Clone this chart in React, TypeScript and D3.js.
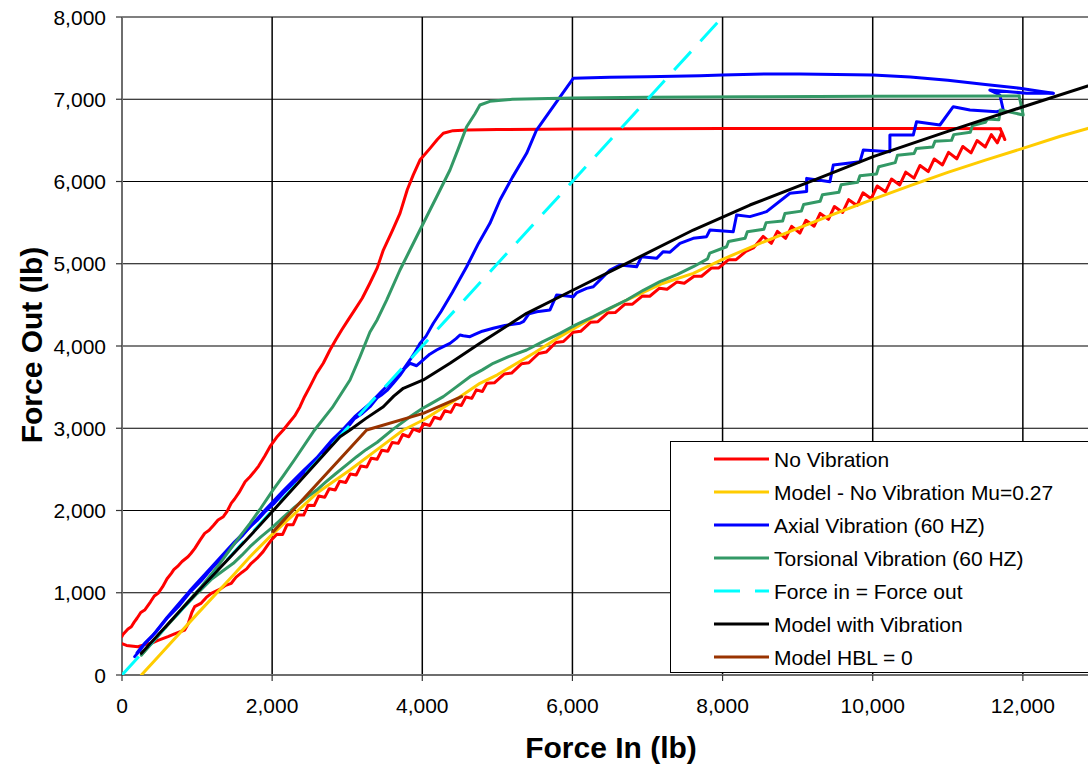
import React from "react";
import * as d3 from "d3";

type Pt = [number, number];

// Axis ticks
const xTicks = [0, 2000, 4000, 6000, 8000, 10000, 12000];
const xGrid = [2000, 4000, 6000, 8000, 10000, 12000, 14000];
const yTicks = [0, 1000, 2000, 3000, 4000, 5000, 6000, 7000, 8000];

// No Vibration: loading branch (stick-slip sawtooth) and unloading branch
const noVibLoad: Pt[] = [
  [0, 380], [60, 360], [150, 350], [213, 344], [300, 370], [390, 385], [480, 420], [613, 466],
  [700, 500], [835, 547], [880, 620], [930, 760], [968, 831], [1050, 870], [1120, 940], [1190, 993],
  [1300, 1040], [1380, 1090], [1456, 1115], [1520, 1190], [1600, 1250], [1660, 1290], [1722, 1358],
  [1800, 1420], [1880, 1500], [1940, 1580], [1989, 1641],
  [2060, 1710], [2140, 1709], [2200, 1828], [2280, 1827], [2340, 1946], [2420, 1945], [2480, 2064],
  [2560, 2060], [2620, 2176], [2700, 2160], [2760, 2265], [2840, 2250], [2900, 2355], [2980, 2340],
  [3040, 2444], [3120, 2432], [3180, 2540], [3260, 2528], [3320, 2636], [3400, 2624], [3460, 2733],
  [3540, 2720], [3600, 2828], [3680, 2816], [3740, 2924], [3820, 2897], [3880, 2990], [3960, 2962],
  [4020, 3054], [4100, 3034], [4160, 3134], [4240, 3113], [4300, 3213], [4380, 3193], [4440, 3293],
  [4520, 3276], [4580, 3380], [4660, 3363], [4720, 3467], [4800, 3447],
  [4860, 3547], [4960, 3553], [5090, 3659], [5190, 3671], [5320, 3783], [5420, 3796], [5550, 3909],
  [5650, 3926], [5780, 4043], [5880, 4055], [6010, 4167], [6110, 4178], [6240, 4288], [6340, 4296],
  [6470, 4403], [6570, 4406], [6700, 4509], [6800, 4508], [6930, 4607], [7030, 4605], [7160, 4703],
  [7260, 4690], [7390, 4777], [7490, 4763], [7620, 4848], [7720, 4848], [7850, 4948], [7950, 4949],
  [8080, 5050], [8180, 5050], [8310, 5150], [8410, 5192],
  [8540, 5333], [8650, 5248], [8730, 5394], [8840, 5309], [8920, 5454], [9030, 5373], [9110, 5528],
  [9220, 5457], [9300, 5612], [9410, 5540], [9490, 5696], [9600, 5624], [9680, 5779], [9790, 5708],
  [9870, 5863], [9980, 5791], [10060, 5946], [10170, 5875], [10250, 6030], [10360, 5958], [10440, 6114],
  [10550, 6041], [10630, 6195], [10740, 6121], [10820, 6274], [10930, 6201], [11010, 6354], [11120, 6276],
  [11200, 6426], [11310, 6348], [11390, 6498], [11500, 6420], [11580, 6570], [11660, 6470], [11720, 6600],
  [11760, 6510], [11700, 6640],
];
const noVibUnload: Pt[] = [
  [11700, 6640], [11000, 6645], [10000, 6645], [9000, 6645], [8000, 6643], [7000, 6640], [6000, 6638],
  [5000, 6632], [4600, 6625], [4410, 6618], [4280, 6586], [4200, 6510], [4100, 6400], [3969, 6261],
  [3880, 6080], [3800, 5900], [3703, 5613], [3600, 5400], [3481, 5167], [3400, 4950], [3300, 4760],
  [3200, 4580], [3100, 4440], [3000, 4300], [2926, 4195], [2850, 4080], [2770, 3951], [2681, 3790],
  [2593, 3668], [2500, 3500], [2430, 3380], [2371, 3262], [2300, 3150], [2220, 3060], [2148, 2979],
  [2060, 2890], [1971, 2776], [1900, 2660], [1820, 2540], [1760, 2470], [1705, 2411], [1640, 2350],
  [1560, 2220], [1500, 2140], [1456, 2090], [1400, 1990], [1350, 1925], [1279, 1884], [1220, 1820],
  [1160, 1760], [1101, 1722], [1040, 1640], [970, 1540], [920, 1480], [879, 1438], [800, 1380],
  [740, 1320], [690, 1280], [657, 1236], [600, 1170], [540, 1070], [480, 993], [430, 960], [380, 890],
  [302, 790], [250, 760], [200, 690], [160, 640], [124, 587], [80, 560], [40, 520], [10, 490], [0, 470],
];

// Model - No Vibration, Mu = 0.27
const modelNoVib: Pt[] = [
  [258, 0], [500, 240], [1000, 740], [1500, 1230], [1705, 1438], [2015, 1722], [2593, 2209],
  [3037, 2492], [3500, 2810], [3747, 2979], [4013, 3100], [4400, 3320], [4768, 3546], [5000, 3650],
  [5500, 3920], [5834, 4114], [6300, 4360], [6722, 4559], [7200, 4760], [7609, 4883], [8000, 5054],
  [8498, 5248], [9000, 5430], [9500, 5610], [10000, 5783], [10500, 5950], [11000, 6110], [11500, 6260],
  [12000, 6403], [12500, 6550], [12866, 6646], [13300, 6760],
];

// Axial Vibration (60 Hz)
const axialLoad: Pt[] = [
  [169, 223], [240, 300], [302, 385], [450, 520], [600, 690], [750, 830], [900, 1000], [1050, 1140],
  [1200, 1300], [1350, 1440], [1500, 1600], [1600, 1690], [1705, 1803], [1800, 1880], [1900, 1980],
  [2020, 2080], [2148, 2209], [2280, 2330], [2400, 2440], [2500, 2530], [2593, 2614], [2700, 2720],
  [2800, 2830], [2948, 2979], [3030, 3040], [3100, 3120], [3200, 3180], [3303, 3262], [3400, 3370],
  [3450, 3400], [3530, 3460], [3614, 3546], [3700, 3640], [3760, 3720], [3836, 3790],
  [3925, 3760], [4013, 3830], [4100, 3900], [4191, 3951], [4280, 3992], [4369, 4032], [4450, 4090],
  [4502, 4134], [4546, 4125], [4635, 4113], [4700, 4140], [4800, 4180], [4945, 4215], [5100, 4250],
  [5301, 4276], [5350, 4300], [5420, 4390], [5523, 4417], [5701, 4438], [5789, 4620], [5900, 4610],
  [6011, 4600], [6060, 4650], [6189, 4701], [6278, 4721], [6411, 4843], [6500, 4924], [6633, 4985],
  [6855, 4964], [6921, 5086], [7121, 5066], [7210, 5147], [7300, 5140], [7432, 5248], [7609, 5309],
  [7787, 5329], [7832, 5410], [8142, 5390], [8187, 5593], [8364, 5573], [8586, 5633], [8897, 5857],
  [9120, 5877], [9120, 6038], [9430, 5998], [9475, 6200], [9830, 6241], [9875, 6383], [10229, 6363],
  [10229, 6565], [10540, 6565], [10584, 6727], [10895, 6687], [11073, 6909], [11295, 6869],
  [11650, 6849], [11739, 6869], [11694, 7052], [11561, 7112], [12050, 7072], [12405, 7072],
];
const axialUnload: Pt[] = [
  [12405, 7072], [12200, 7100], [11960, 7133], [11500, 7180], [11000, 7230], [10500, 7270],
  [10000, 7295], [9030, 7307], [8586, 7307], [8000, 7295], [7698, 7286], [7000, 7275], [6500, 7268],
  [6011, 7255], [5800, 6983], [5522, 6626], [5390, 6343], [5200, 6050], [5035, 5775], [4901, 5492],
  [4750, 5250], [4591, 4964], [4400, 4650], [4250, 4420], [4147, 4276], [4050, 4120], [3969, 4032],
  [3900, 3920], [3836, 3830], [3750, 3720], [3614, 3590], [3450, 3440], [3303, 3300], [3100, 3140],
  [2948, 2990], [2800, 2860], [2593, 2640], [2400, 2470], [2148, 2240], [1900, 2000], [1705, 1800],
  [1500, 1620], [1200, 1320], [900, 1020], [600, 700], [400, 470], [250, 330], [200, 270],
];

// Torsional Vibration (60 Hz)
const torsionalLoad: Pt[] = [
  [258, 243], [400, 390], [600, 600], [800, 800], [1000, 990], [1200, 1170], [1350, 1270],
  [1483, 1358], [1600, 1460], [1705, 1560], [1850, 1680], [2015, 1803], [2150, 1920], [2300, 2040],
  [2450, 2150], [2593, 2249], [2720, 2350], [2850, 2450], [3000, 2560], [3126, 2654], [3250, 2740],
  [3400, 2830], [3600, 2980], [3836, 3140], [4000, 3240], [4100, 3290], [4280, 3384], [4450, 3500],
  [4635, 3627], [4800, 3710], [4945, 3790], [5150, 3870], [5390, 3951], [5600, 4050], [5834, 4154],
  [6050, 4260], [6278, 4357], [6500, 4460], [6722, 4559], [6950, 4680], [7166, 4782], [7400, 4870],
  [7609, 4964], [7800, 5060], [7830, 5130], [8053, 5207], [8080, 5270], [8300, 5310], [8330, 5390],
  [8550, 5420], [8580, 5500], [8800, 5520], [8830, 5610], [9050, 5640], [9080, 5720], [9300, 5760],
  [9330, 5840], [9550, 5870], [9580, 5960], [9800, 5990], [9830, 6070], [10050, 6090], [10080, 6180],
  [10300, 6230], [10330, 6320], [10550, 6340], [10580, 6400], [10800, 6420], [10830, 6490],
  [11050, 6500], [11080, 6570], [11300, 6600], [11330, 6680], [11500, 6720], [11530, 6760],
  [11680, 6750], [11700, 6870], [12005, 6809], [11950, 7040],
];
const torsionalUnload: Pt[] = [
  [11950, 7040], [10000, 7035], [8364, 7031], [7000, 7025], [6000, 7015], [5200, 7000], [4901, 6975],
  [4768, 6930], [4700, 6820], [4591, 6666], [4480, 6400], [4369, 6140], [4200, 5830], [3969, 5410],
  [3836, 5167], [3703, 4924], [3525, 4559], [3400, 4320], [3303, 4170], [3170, 3870], [3037, 3587],
  [2800, 3250], [2550, 2960], [2300, 2620], [2148, 2420], [2015, 2253], [1850, 2030], [1705, 1844],
  [1500, 1600], [1300, 1350], [1056, 1073], [800, 810], [500, 500], [258, 243],
];

// Force in = Force out reference
const equality: Pt[] = [[0, 0], [8000, 8000]];

// Model with Vibration
const modelVib: Pt[] = [
  [258, 264], [1000, 1005], [1705, 1690], [2015, 2000], [2500, 2490], [2904, 2897], [3037, 2979],
  [3250, 3120], [3481, 3262], [3620, 3390], [3747, 3486], [4013, 3587], [4369, 3790], [4768, 4032],
  [5390, 4397], [6011, 4681], [6722, 5005], [7609, 5410], [8364, 5714], [9200, 6010], [10007, 6302],
  [11000, 6610], [12005, 6909], [12866, 7161], [13300, 7280],
];

// Model HBL = 0
const modelHbl: Pt[] = [[2015, 1743], [3259, 2979], [4013, 3181], [4524, 3384]];

const series = [
  { name: "No Vibration", color: "#FF0000", dash: "", parts: [noVibLoad, noVibUnload] },
  { name: "Model - No Vibration Mu=0.27", color: "#FFCC00", dash: "", parts: [modelNoVib] },
  { name: "Axial Vibration (60 HZ)", color: "#0000FF", dash: "", parts: [axialLoad, axialUnload] },
  { name: "Torsional Vibration (60 HZ)", color: "#339966", dash: "", parts: [torsionalLoad, torsionalUnload] },
  { name: "Force in = Force out", color: "#00FFFF", dash: "25,14", parts: [equality] },
  { name: "Model with Vibration", color: "#000000", dash: "", parts: [modelVib] },
  { name: "Model HBL = 0", color: "#993300", dash: "", parts: [modelHbl] },
];

const FONT = "'Liberation Sans', Arial, Helvetica, sans-serif";

export default function App() {
  const W = 1088;
  const H = 769;
  const x = d3.scaleLinear().domain([0, 14000]).range([122, 1173]);
  const y = d3.scaleLinear().domain([0, 8000]).range([675, 17]);
  const line = d3
    .line<Pt>()
    .x((d) => x(d[0]))
    .y((d) => y(d[1]));
  const fmt = d3.format(",");

  const legendX = 670;
  const legendY = 441;
  const rowH = 33;

  return (
    <svg
      width={W}
      height={H}
      style={{ position: "absolute", left: 0, top: 0, display: "block" }}
      fontFamily={FONT}
    >
      <defs>
        <clipPath id="plotClip">
          <rect x={x(0)} y={y(8000)} width={x(14000) - x(0)} height={y(0) - y(8000)} />
        </clipPath>
      </defs>
      <rect x={0} y={0} width={W} height={H} fill="#ffffff" />

      {/* gridlines */}
      {yTicks.slice(1).map((v) => (
        <line key={"hy" + v} x1={x(0)} x2={x(14000)} y1={y(v)} y2={y(v)} stroke="#000" strokeWidth={1.2} />
      ))}
      {xGrid.map((v) => (
        <line key={"vx" + v} x1={x(v)} x2={x(v)} y1={y(8000)} y2={y(0)} stroke="#000" strokeWidth={1.5} />
      ))}

      {/* axes */}
      <line x1={x(0)} x2={x(0)} y1={y(8000)} y2={y(0)} stroke="#6e6e6e" strokeWidth={2} />
      <line x1={x(0)} x2={x(14000)} y1={y(0)} y2={y(0)} stroke="#6e6e6e" strokeWidth={2} />
      {yTicks.map((v) => (
        <g key={"yt" + v}>
          <line x1={x(0) - 6} x2={x(0)} y1={y(v)} y2={y(v)} stroke="#333" strokeWidth={1.2} />
          <text x={106} y={y(v) + 7.5} textAnchor="end" fontSize={21} fill="#000">
            {fmt(v)}
          </text>
        </g>
      ))}
      {xTicks.map((v) => (
        <g key={"xt" + v}>
          <line x1={x(v)} x2={x(v)} y1={y(0)} y2={y(0) + 6} stroke="#333" strokeWidth={1.2} />
          <text x={x(v)} y={713} textAnchor="middle" fontSize={21} fill="#000">
            {fmt(v)}
          </text>
        </g>
      ))}

      {/* data series */}
      <g clipPath="url(#plotClip)">
        {series.map((s) =>
          s.parts.map((p, i) => (
            <path
              key={s.name + i}
              d={line(p) || ""}
              fill="none"
              stroke={s.color}
              strokeWidth={3}
              strokeDasharray={s.dash || undefined}
              strokeLinejoin="round"
              strokeLinecap={s.dash ? "butt" : "round"}
            />
          ))
        )}
      </g>

      {/* axis titles */}
      <text x={611} y={758} textAnchor="middle" fontSize={30} fontWeight="bold" fill="#000">
        Force In (lb)
      </text>
      <text
        transform={`translate(42, 345) rotate(-90)`}
        textAnchor="middle"
        fontSize={30}
        fontWeight="bold"
        fill="#000"
      >
        Force Out (lb)
      </text>

      {/* legend */}
      <rect x={legendX + 0.5} y={legendY + 0.5} width={440} height={231} fill="#fff" stroke="#000" strokeWidth={1} />
      {series.map((s, i) => {
        const cy = legendY + 18 + i * rowH;
        return (
          <g key={"lg" + s.name}>
            <line
              x1={714}
              x2={769}
              y1={cy}
              y2={cy}
              stroke={s.color}
              strokeWidth={3}
              strokeDasharray={s.dash ? "26,15" : undefined}
            />
            <text x={774} y={cy + 7.5} fontSize={21} fill="#000">
              {s.name}
            </text>
          </g>
        );
      })}
    </svg>
  );
}
